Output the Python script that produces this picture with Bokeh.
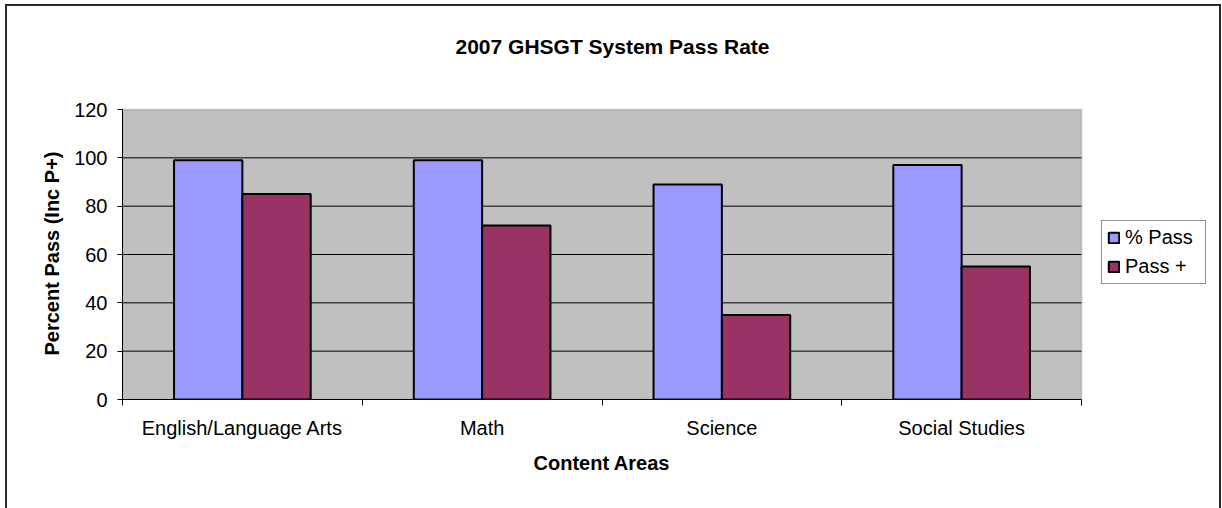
from bokeh.plotting import figure
from bokeh.models import (ColumnDataSource, FixedTicker, Range1d, Legend, LegendItem,
                          InlineStyleSheet, BoxAnnotation, Label, Title)
from bokeh.embed import file_html
from bokeh.resources import INLINE

categories = ["English/Language Arts", "Math", "Science", "Social Studies"]
pass_pct = [99, 99, 89, 97]
pass_plus = [85, 72, 35, 55]
series_names = ["% Pass", "Pass +"]
y_ticks = [0, 20, 40, 60, 80, 100, 120]
title_text = "2007 GHSGT System Pass Rate"
x_title = "Content Areas"
y_title = "Percent Pass (Inc P+)"

FONT = "Liberation Sans"
n = len(categories)
y_max = y_ticks[-1]

# layout (pixels): plot area 959 x 290, its left at 122, its bottom at 399
AREA_W, AREA_H = 959, 290
FRAME_W, FRAME_H = 1100, 399
px_x = AREA_W / n
px_y = AREA_H / y_max

pos = [i + 0.5 for i in range(n)]
src = ColumnDataSource(dict(
    x1=[p_ - 0.1425 for p_ in pos],
    x2=[p_ + 0.1425 for p_ in pos],
    a=pass_pct, b=pass_plus))
grid_vals = y_ticks[1:-1]
grid_src = ColumnDataSource(dict(x0=[0] * len(grid_vals), x1=[n] * len(grid_vals),
                                 y=grid_vals))

p = figure(frame_width=FRAME_W, frame_height=FRAME_H, output_backend="svg",
           toolbar_location=None, title=None,
           x_range=Range1d(0, FRAME_W / px_x), y_range=Range1d(0, FRAME_H / px_y),
           min_border_left=122, min_border_right=0, min_border_top=0,
           min_border_bottom=109)
p.stylesheets = [InlineStyleSheet(css="""
:host::after { content: ""; position: absolute; left: 5px; top: 4px; right: 1px;
  bottom: 0px; box-sizing: border-box; border: 2px solid #2a2a2a;
  border-bottom: none; pointer-events: none; }
""")]
p.background_fill_color = "white"
p.border_fill_color = "white"
p.outline_line_color = None

area = BoxAnnotation(left=0, right=n, bottom=0, top=y_max, fill_color="#C0C0C0",
                     fill_alpha=1, line_color="#808080", line_width=2, level="underlay")
p.add_layout(area)

title = Label(x=(612 - 122) / px_x, y=(FRAME_H - 46) / px_y, text=title_text,
              text_align="center", text_baseline="middle", text_font=FONT,
              text_font_size="21px", text_font_style="bold", text_color="black")
p.add_layout(title)

p.segment(x0="x0", x1="x1", y0="y", y1="y", source=grid_src, line_color="black",
          line_width=1)
r1 = p.vbar(x="x1", top="a", width=0.285, source=src, fill_color="#9999FF",
            line_color="black", line_width=2)
r2 = p.vbar(x="x2", top="b", width=0.285, source=src, fill_color="#993366",
            line_color="black", line_width=2)

p.xgrid.visible = False
p.ygrid.visible = False

xa = p.xaxis[0]
xa.bounds = (0, n)
xa.ticker = FixedTicker(ticks=pos, minor_ticks=list(range(n + 1)))
xa.major_label_overrides = {p_: c for p_, c in zip(pos, categories)}
xa.major_tick_line_color = None
xa.major_tick_out = 0
xa.major_tick_in = 0
xa.minor_tick_out = 6
xa.minor_tick_in = 0
xa.minor_tick_line_color = "black"
xa.axis_line_color = "black"
xa.axis_line_width = 1
xa.major_label_text_font = FONT
xa.major_label_text_font_size = "20px"
xa.major_label_text_color = "black"
xa.major_label_standoff = 11

ya = p.yaxis[0]
ya.bounds = (0, y_max)
ya.ticker = FixedTicker(ticks=y_ticks)
ya.major_tick_out = 5
ya.major_tick_in = 0
ya.minor_tick_line_color = None
ya.axis_line_color = "black"
ya.major_label_text_font = FONT
ya.major_label_text_font_size = "20px"
ya.major_label_text_color = "black"
ya.major_label_standoff = 10

# axis titles centred on the plot area (not on the extended frame)
xt = Title(text=x_title, align="left", offset=411, standoff=16, text_font=FONT,
           text_font_size="20px", text_font_style="bold", text_color="black")
p.add_layout(xt, "below")
yt = Title(text=y_title, align="left", offset=44, standoff=18, text_font=FONT,
           text_font_size="20px", text_font_style="bold", text_color="black")
p.add_layout(yt, "left")

legend = Legend(items=[LegendItem(label=series_names[0], renderers=[r1]),
                       LegendItem(label=series_names[1], renderers=[r2])],
                location=(979, 115), orientation="vertical")
legend.label_text_font = FONT
legend.label_text_font_size = "20px"
legend.label_text_color = "black"
legend.glyph_width = 13
legend.glyph_height = 13
legend.label_standoff = 5
legend.label_width = 75
legend.spacing = 6
legend.padding = 5
legend.margin = 0
legend.border_line_color = "#222222"
legend.border_line_width = 1
legend.background_fill_color = "white"
legend.background_fill_alpha = 1
p.add_layout(legend, "center")

open("out.html", "w").write(file_html(p, INLINE))
